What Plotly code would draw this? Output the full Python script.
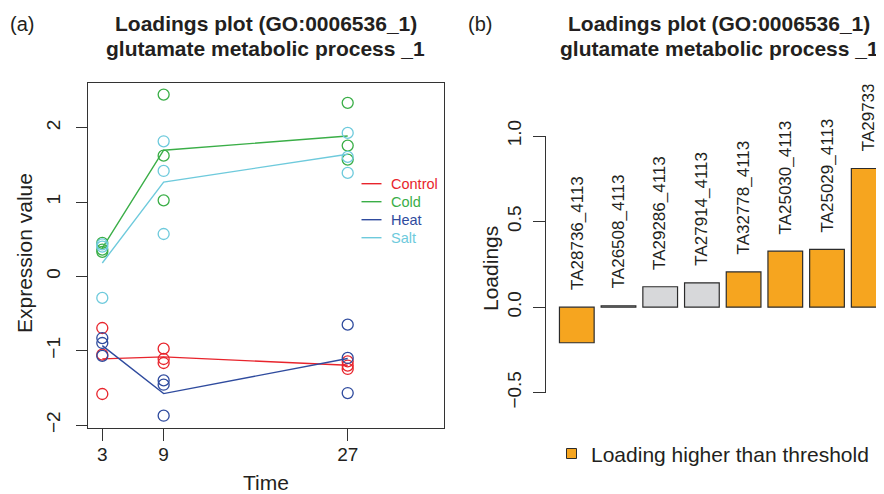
import numpy as np
import plotly.graph_objects as go

# ---------------- data ----------------
time_points = [3, 9, 27]
control = [[-0.695, -1.054, -1.583], [-0.973, -1.112, -1.166], [-1.144, -1.200, -1.246]]
cold = [[0.45, 0.36, 0.33], [2.445, 1.624, 1.023], [2.334, 1.759, 1.571]]
heat = [[-0.83, -0.897, -1.07], [-1.40, -1.458, -1.875], [-0.65, -1.098, -1.57]]
salt = [[0.43, 0.40, -0.29], [1.817, 1.418, 0.570], [1.93, 1.607, 1.392]]
series_names = ["Control", "Cold", "Heat", "Salt"]

genes = ["TA28736_4113", "TA26508_4113", "TA29286_4113", "TA27914_4113",
         "TA32778_4113", "TA25030_4113", "TA25029_4113", "TA29733_4113"]
loadings = [-0.208, 0.008, 0.119, 0.142, 0.206, 0.327, 0.337, 0.810]
above_threshold = [True, False, False, False, True, True, True, True]

x_tick_vals = [3, 9, 27]
y_ticks_a = [-2, -1, 0, 1, 2]
y_ticks_b = [-0.5, 0.0, 0.5, 1.0]

# ---------------- styling ----------------
W, H = 884, 494
OFF = 8  # page body margin
FONT = "Liberation Sans, Arial, Helvetica, sans-serif"
TXT = "#231f20"
AX = "#333333"
colors = {"Control": "#E8242C", "Cold": "#3AAE47", "Heat": "#2F4B9E", "Salt": "#6ECADC"}
ORANGE = "#F6A51F"
GREY = "#D7D8DA"


def px(x):
    return (x - OFF) / W


def py(y):
    return 1 - (y - OFF) / H


fig = go.Figure()

series_data = {"Control": control, "Cold": cold, "Heat": heat, "Salt": salt}
for name in series_names:
    reps = series_data[name]
    xs, ys = [], []
    for t, vals in zip(time_points, reps):
        xs += [t] * len(vals)
        ys += vals
    fig.add_trace(go.Scatter(
        x=xs, y=ys, mode="markers", xaxis="x", yaxis="y",
        marker=dict(symbol="circle-open", size=11, color=colors[name], line=dict(width=1.3)),
        showlegend=False, hoverinfo="skip"))
    fig.add_trace(go.Scatter(
        x=time_points, y=[float(np.mean(v)) for v in reps], mode="lines",
        xaxis="x", yaxis="y", line=dict(color=colors[name], width=1.4),
        showlegend=False, name=name))

fig.add_trace(go.Bar(
    x=genes, y=loadings, xaxis="x2", yaxis="y2",
    marker=dict(color=[ORANGE if a else GREY for a in above_threshold],
                line=dict(color="#2b2b2b", width=1.2)),
    showlegend=False, hoverinfo="skip"))

annotations = []
shapes = []

# bar labels (rotated, above bar or above zero)
for g, v in zip(genes, loadings):
    annotations.append(dict(
        x=g, y=max(v, 0), xref="x2", yref="y2", text=g, textangle=-90,
        showarrow=False, xanchor="center", yanchor="bottom", yshift=15,
        font=dict(family=FONT, size=17, color=TXT)))

# labels are clipped at the top of the plot region (panel b)
annotations.append(dict(
    x=1, y=1, xref="paper", yref="paper", xanchor="right", yanchor="top",
    text="\u00a0", width=50, height=83 - OFF, bgcolor="white", borderpad=0,
    showarrow=False))

# titles
for cx, lab in [(22, "(a)"), (480, "(b)")]:
    annotations.append(dict(x=px(cx), y=py(24), xref="paper", yref="paper",
                            text=lab, showarrow=False, xanchor="center", yanchor="middle",
                            font=dict(family=FONT, size=20, color=TXT)))
for cx in [265.5, 719]:
    annotations.append(dict(x=px(cx), y=py(24), xref="paper", yref="paper",
                            text="<b>Loadings plot (GO:0006536_1)</b>", showarrow=False,
                            xanchor="center", yanchor="middle",
                            font=dict(family=FONT, size=21, color=TXT)))
    annotations.append(dict(x=px(cx), y=py(49), xref="paper", yref="paper",
                            text="<b>glutamate metabolic process _1</b>", showarrow=False,
                            xanchor="center", yanchor="middle",
                            font=dict(family=FONT, size=21, color=TXT)))

# axis titles
annotations.append(dict(x=px(24), y=py(253), xref="paper", yref="paper", text="Expression value",
                        textangle=-90, showarrow=False, xanchor="center", yanchor="middle",
                        font=dict(family=FONT, size=21, color=TXT)))
annotations.append(dict(x=px(266), y=py(482), xref="paper", yref="paper", text="Time",
                        showarrow=False, xanchor="center", yanchor="middle",
                        font=dict(family=FONT, size=21, color=TXT)))
annotations.append(dict(x=px(490), y=py(268), xref="paper", yref="paper", text="Loadings",
                        textangle=-90, showarrow=False, xanchor="center", yanchor="middle",
                        font=dict(family=FONT, size=21, color=TXT)))

# legend panel a
for i, name in enumerate(series_names):
    yy = 183.7 + 18 * i
    shapes.append(dict(type="line", xref="paper", yref="paper",
                       x0=px(361.5), x1=px(381.5), y0=py(yy), y1=py(yy),
                       line=dict(color=colors[name], width=1.4)))
    annotations.append(dict(x=px(389), y=py(yy), xref="paper", yref="paper", text=name,
                            showarrow=False, xanchor="left", yanchor="middle",
                            font=dict(family=FONT, size=14.5, color=colors[name])))

# legend panel b
shapes.append(dict(type="rect", xref="paper", yref="paper",
                   x0=px(566.5), x1=px(576.5), y0=py(458.5), y1=py(448.5),
                   fillcolor=ORANGE, line=dict(color="#2b2b2b", width=1)))
annotations.append(dict(x=px(589), y=py(454), xref="paper", yref="paper",
                        text="Loading higher than threshold", showarrow=False,
                        xanchor="left", yanchor="middle",
                        font=dict(family=FONT, size=21, color=TXT)))

# panel b: bar centre pitch in reference pixels
bar0_px, pitch_px = 576.8, 41.7
x2_left_px, x2_right_px = 546, W + OFF

fig.update_layout(
    width=W, height=H, margin=dict(l=0, r=0, t=0, b=0, autoexpand=False),
    paper_bgcolor="white", plot_bgcolor="white",
    font=dict(family=FONT, color=TXT),
    bargap=0.168,
    xaxis=dict(domain=[px(88), px(444)], range=[1.6015, 36.418], anchor="y",
               tickvals=x_tick_vals, ticktext=[str(v) for v in x_tick_vals],
               ticks="outside", ticklen=12, tickwidth=1.2, tickcolor=AX,
               showline=True, linecolor=AX, linewidth=1.3, mirror=True,
               showgrid=False, zeroline=False, ticklabelstandoff=-3, automargin=False,
               tickfont=dict(family=FONT, size=19, color=TXT)),
    yaxis=dict(domain=[py(428), py(83)], range=[-2.0403, 2.6014], anchor="x",
               tickvals=y_ticks_a, ticks="outside", ticklen=11, tickwidth=1.2, tickcolor=AX,
               tickangle=-90, showline=True, linecolor=AX, linewidth=1.3, mirror=True,
               showgrid=False, zeroline=False, ticklabelstandoff=8, automargin=False,
               tickfont=dict(family=FONT, size=19, color=TXT)),
    xaxis2=dict(domain=[px(x2_left_px), px(x2_right_px)],
                range=[(x2_left_px - bar0_px) / pitch_px, (x2_right_px - bar0_px) / pitch_px],
                anchor="y2", showticklabels=False, ticks="", showline=False, showgrid=False,
                zeroline=False, automargin=False),
    yaxis2=dict(domain=[py(392.7), py(136)], range=[-0.5, 1.0], anchor="x2",
                tickvals=y_ticks_b, tickformat=".1f", ticks="outside", ticklen=12,
                tickwidth=1.2, tickcolor=AX, tickangle=-90,
                showline=True, linecolor=AX, linewidth=1.3,
                showgrid=False, zeroline=False, ticklabelstandoff=4, automargin=False,
                tickfont=dict(family=FONT, size=19, color=TXT)),
    annotations=annotations,
    shapes=shapes,
)

fig.write_html("out.html")
